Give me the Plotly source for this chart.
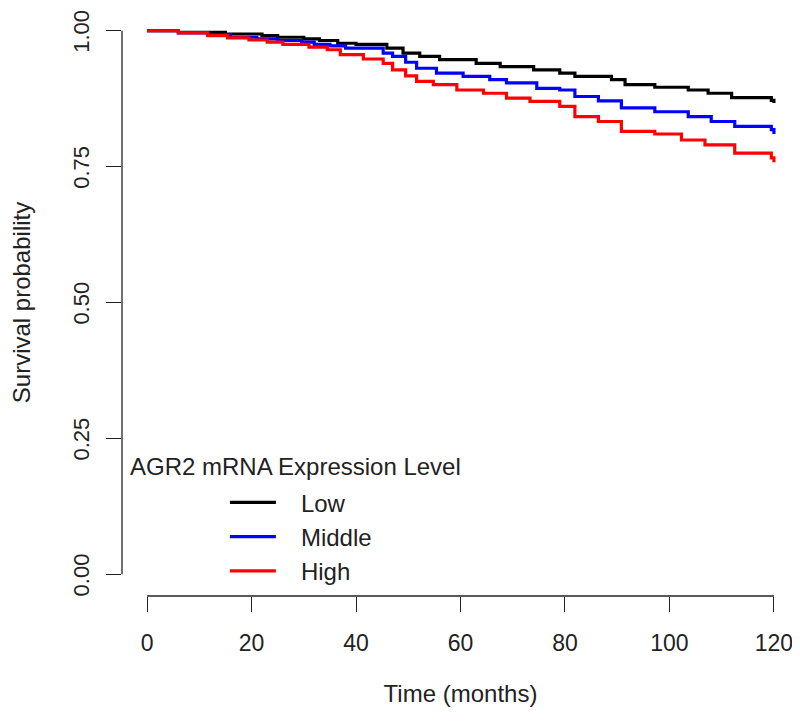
import plotly.graph_objects as go

# Kaplan-Meier style curves
low_t = [0, 6, 15, 22, 25, 30, 33, 36.5, 40, 45.9, 49, 52.2, 56, 63, 67.6, 74, 79, 81.9, 88.9, 91.5, 97.2, 103.6, 107.4, 111.9, 119.5, 120]
low_s = [1.000, 0.997, 0.994, 0.991, 0.988, 0.985, 0.982, 0.977, 0.975, 0.968, 0.959, 0.953, 0.947, 0.940, 0.934, 0.928, 0.922, 0.916, 0.910, 0.901, 0.896, 0.891, 0.885, 0.877, 0.872, 0.867]

mid_t = [0, 6, 11.6, 16, 21, 25, 29.6, 32, 35, 38, 45.2, 47, 49.5, 51.6, 55.4, 60.5, 65.6, 68.8, 74.6, 79, 81.9, 86.4, 90.8, 97.2, 103.6, 108, 112.5, 119.5, 120]
mid_s = [1.000, 0.996, 0.993, 0.988, 0.985, 0.982, 0.979, 0.975, 0.972, 0.968, 0.959, 0.953, 0.942, 0.931, 0.922, 0.916, 0.910, 0.904, 0.894, 0.891, 0.879, 0.871, 0.858, 0.851, 0.842, 0.833, 0.824, 0.818, 0.810]

high_t = [0, 6, 11.6, 15.4, 19.5, 23, 26, 31, 34.5, 37, 41.4, 45.2, 47, 49.5, 51.6, 54.8, 59.3, 64.4, 68.8, 73.3, 79, 81.9, 86.4, 90.8, 97.2, 102.3, 106.8, 112.5, 119.5, 120]
high_s = [1.000, 0.996, 0.991, 0.987, 0.983, 0.979, 0.975, 0.970, 0.965, 0.956, 0.948, 0.940, 0.928, 0.917, 0.907, 0.901, 0.891, 0.885, 0.876, 0.870, 0.861, 0.842, 0.833, 0.815, 0.810, 0.799, 0.790, 0.775, 0.766, 0.758]

series_names = ["Low", "Middle", "High"]
series_colors = ["#000000", "#0000FF", "#FF0000"]

x_ticks = [0, 20, 40, 60, 80, 100, 120]
y_ticks = [0.0, 0.25, 0.5, 0.75, 1.0]
y_tick_labels = ["0.00", "0.25", "0.50", "0.75", "1.00"]

FONT = "Liberation Sans, Arial, sans-serif"
TXT = "#222222"
NB = "\u00a0\u00a0\u00a0"

fig = go.Figure()
for t, s, name, col in zip([low_t, mid_t, high_t], [low_s, mid_s, high_s], series_names, series_colors):
    fig.add_trace(go.Scatter(x=t, y=s, mode="lines", name=NB + name,
                             line=dict(color=col, width=3.2, shape="hv")))

# page body has an 8px margin, so the figure is sized to fit the 800x725 window
fig.update_layout(
    width=792, height=717,
    margin=dict(l=114, r=1, t=1, b=129, autoexpand=False),
    paper_bgcolor="white", plot_bgcolor="white",
    font=dict(family=FONT, size=23, color=TXT),
    showlegend=True,
    legend=dict(x=0.152, y=0.197, xanchor="left", yanchor="top",
                bgcolor="rgba(0,0,0,0)", font=dict(size=24, color=TXT),
                itemwidth=46, tracegroupgap=0),
    xaxis=dict(range=[-4.8, 124.8], tickvals=x_ticks, ticks="outside", ticklen=15,
               tickwidth=1.3, tickcolor=TXT, showgrid=False, zeroline=False,
               showline=False, ticklabelstandoff=11, automargin=False,
               ticklabeloverflow="allow", tickfont=dict(size=23),
               title=dict(text="Time (months)", font=dict(size=24), standoff=30)),
    yaxis=dict(range=[-0.04, 1.04], tickvals=y_ticks, ticktext=y_tick_labels,
               ticks="outside", ticklen=15, tickwidth=1.3, tickcolor=TXT,
               showgrid=False, zeroline=False, showline=False, tickangle=-90,
               ticklabelstandoff=8, ticklabelshift=4, automargin=False,
               ticklabeloverflow="allow", tickfont=dict(size=22),
               title=dict(text="Survival probability", font=dict(size=24), standoff=45)),
    annotations=[dict(text="AGR2 mRNA Expression Level", xref="paper", yref="paper",
                      x=0.009, y=0.22, xanchor="left", yanchor="middle",
                      showarrow=False, font=dict(size=24, color=TXT))],
    shapes=[
        dict(type="line", xref="x", yref="paper", x0=x_ticks[0], x1=x_ticks[-1], y0=0, y1=0,
             line=dict(color=TXT, width=1.3)),
        dict(type="line", xref="paper", yref="y", x0=0, x1=0, y0=y_ticks[0], y1=y_ticks[-1],
             line=dict(color=TXT, width=1.3)),
    ],
)

fig.write_html("out.html")
